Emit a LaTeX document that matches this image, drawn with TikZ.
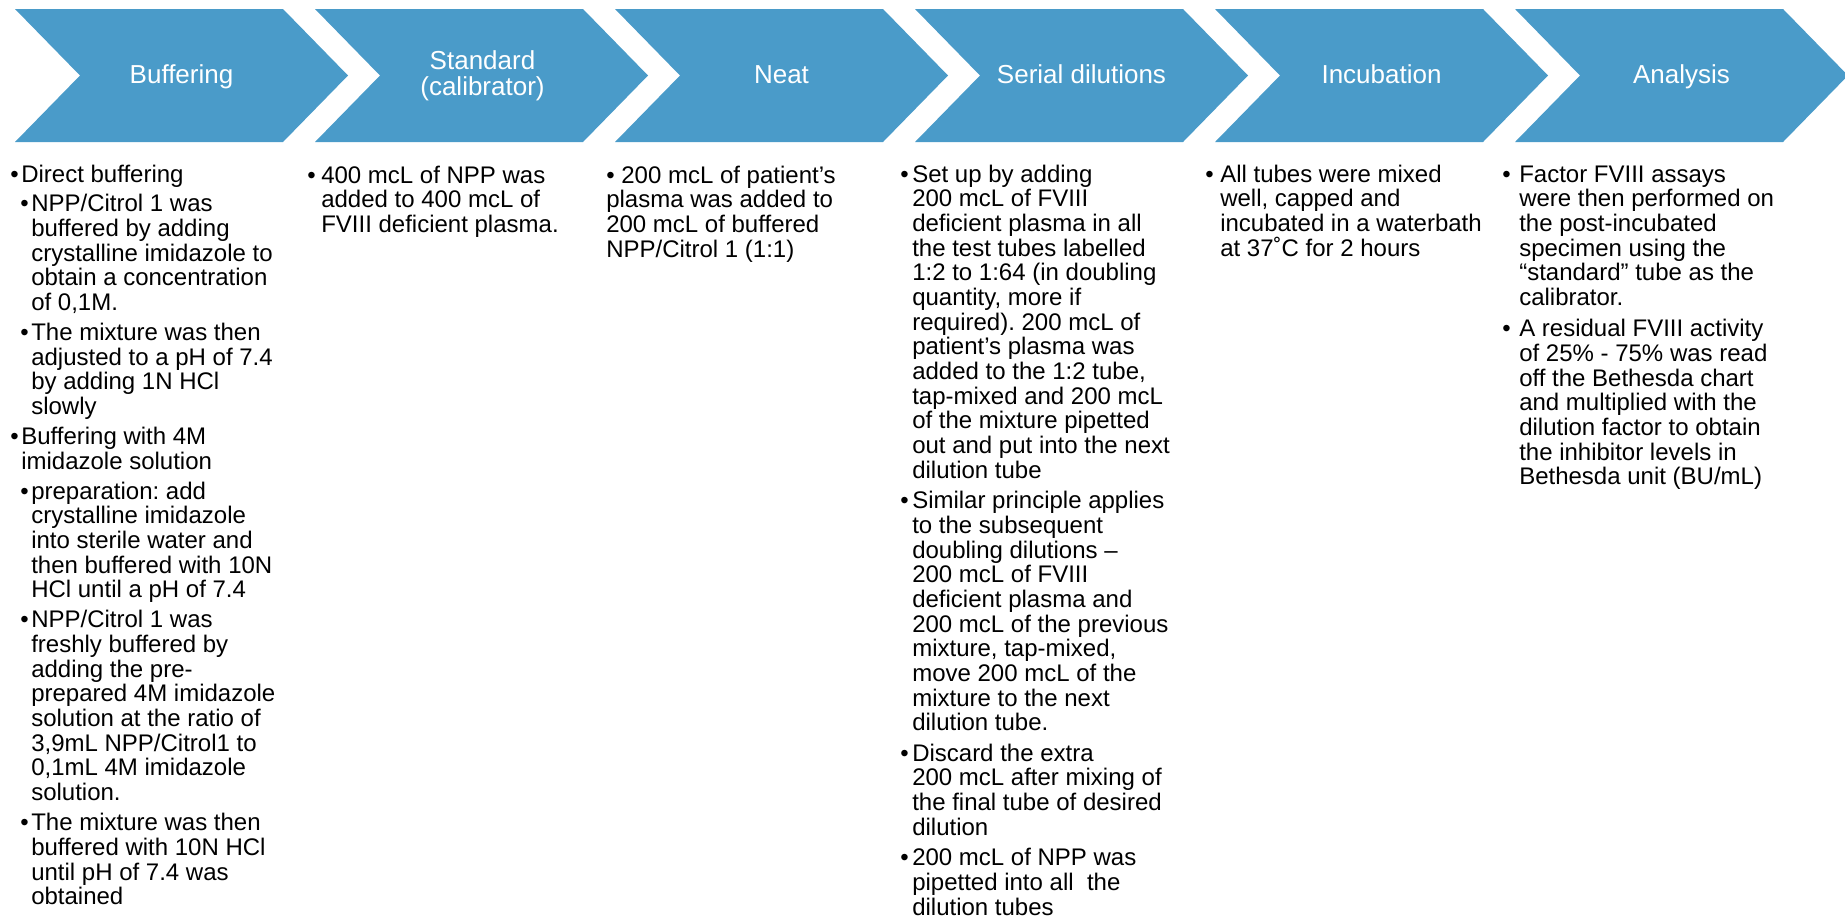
\documentclass[tikz,border=0pt]{standalone}
\usepackage{fontspec}
\setmainfont{Liberation Sans}
\usepackage{tikz}
\usepackage{xcolor}
\definecolor{chevblue}{RGB}{74,155,201}
\newcommand{\bul}[2][8.25pt]{\makebox[#1][l]{\textbullet}\parbox[t]{240pt}{\raggedright #2}}
\frenchspacing

\begin{document}
\begin{tikzpicture}[x=0.75pt,y=0.75pt,yscale=-1,xscale=1,
  chev/.style={fill=chevblue,draw=none},
  head/.style={anchor=base,inner sep=0pt,align=center,text=white,font=\fontsize{19.5pt}{19.3pt}\selectfont},
  body/.style={anchor=base west,inner sep=0pt,font=\fontsize{18pt}{18.5pt}\selectfont}]
\useasboundingbox (0,0) rectangle (1845,921);

%Shape: Chevron
\draw [chev] (15,9) -- (283,9) -- (348,75.5) -- (283,142) -- (15,142) -- (80,75.5) -- cycle ;
%Shape: Chevron
\draw [chev] (315,9) -- (583,9) -- (648,75.5) -- (583,142) -- (315,142) -- (380,75.5) -- cycle ;
%Shape: Chevron
\draw [chev] (615,9) -- (883,9) -- (948,75.5) -- (883,142) -- (615,142) -- (680,75.5) -- cycle ;
%Shape: Chevron
\draw [chev] (915,9) -- (1183,9) -- (1248,75.5) -- (1183,142) -- (915,142) -- (980,75.5) -- cycle ;
%Shape: Chevron
\draw [chev] (1215,9) -- (1483,9) -- (1548,75.5) -- (1483,142) -- (1215,142) -- (1280,75.5) -- cycle ;
%Shape: Chevron
\draw [chev] (1515,9) -- (1783,9) -- (1848,75.5) -- (1783,142) -- (1515,142) -- (1580,75.5) -- cycle ;

% Text Node
\draw (181.5,83) node [head] (hbuf) {Buffering};
% Text Node
\draw (482.5,95) node [head] (hstd) {Standard\\(calibrator)};
% Text Node
\draw (781.5,83) node [head] (hneat) {Neat};
% Text Node
\draw (1081.5,83) node [head] (hser) {Serial dilutions};
% Text Node
\draw (1381.5,83) node [head] (hinc) {Incubation};
% Text Node
\draw (1681.5,83) node [head] (hana) {Analysis};

% Text Node
\draw (10,182) node [body] (bufa) {\bul{Direct buffering}};
% Text Node
\draw (20,211.9) node [body] (bufb) {\bul{NPP/Citrol 1 was\\buffered by adding\\crystalline imidazole to\\obtain a concentration\\of 0,1M.}};
% Text Node
\draw (20,340.6) node [body] (bufc) {\bul{The mixture was then\\adjusted to a pH of 7.4\\by adding 1N HCl\\slowly}};
% Text Node
\draw (10,444.6) node [body] (bufd) {\bul{Buffering with 4M\\imidazole solution}};
% Text Node
\draw (20,499.2) node [body] (bufe) {\bul{preparation: add\\crystalline imidazole\\into sterile water and\\then buffered with 10N\\HCl until a pH of 7.4}};
% Text Node
\draw (20,627.9) node [body] (buff) {\bul{NPP/Citrol 1 was\\freshly buffered by\\adding the pre-\\prepared 4M imidazole\\solution at the ratio of\\3,9mL NPP/Citrol1 to\\0,1mL 4M imidazole\\solution.}};
% Text Node
\draw (20,830.7) node [body] (bufg) {\bul{The mixture was then\\buffered with 10N HCl\\until pH of 7.4 was\\obtained}};

% Text Node
\draw (307,183) node [body] (stda) {\bul[10.5pt]{400 mcL of NPP was\\added to 400 mcL of\\FVIII deficient plasma.}};

% Text Node
\draw (606,183) node [body] (neata) {\parbox[t]{240pt}{\raggedright \textbullet\ 200 mcL of patient’s\\plasma was added to\\200 mcL of buffered\\NPP/Citrol 1 (1:1)}};

% Text Node
\draw (900,182) node [body] (sera) {\bul[9pt]{Set up by adding\\200 mcL of FVIII\\deficient plasma in all\\the test tubes labelled\\1:2 to 1:64 (in doubling\\quantity, more if\\required). 200 mcL of\\patient’s plasma was\\added to the 1:2 tube,\\tap-mixed and 200 mcL\\of the mixture pipetted\\out and put into the next\\dilution tube}};
% Text Node
\draw (900,508.7) node [body] (serb) {\bul[9pt]{Similar principle applies\\to the subsequent\\doubling dilutions –\\200 mcL of FVIII\\deficient plasma and\\200 mcL of the previous\\mixture, tap-mixed,\\move 200 mcL of the\\mixture to the next\\dilution tube.}};
% Text Node
\draw (900,761.3) node [body] (serc) {\bul[9pt]{Discard the extra\\200 mcL after mixing of\\the final tube of desired\\dilution}};
% Text Node
\draw (900,865.7) node [body] (serd) {\bul[9pt]{200 mcL of NPP was\\pipetted into all\ \ the\\dilution tubes}};

% Text Node
\draw (1205,182) node [body] (inca) {\bul[11.25pt]{All tubes were mixed\\well, capped and\\incubated in a waterbath\\at 37˚C for 2 hours}};

% Text Node
\draw (1502,182) node [body] (anaa) {\bul[12.75pt]{Factor FVIII assays\\were then performed on\\the post-incubated\\specimen using the\\“standard” tube as the\\calibrator.}};
% Text Node
\draw (1502,336.7) node [body] (anab) {\bul[12.75pt]{A residual FVIII activity\\of 25\% - 75\% was read\\off the Bethesda chart\\and multiplied with the\\dilution factor to obtain\\the inhibitor levels in\\Bethesda unit (BU/mL)}};

\end{tikzpicture}
\end{document}
